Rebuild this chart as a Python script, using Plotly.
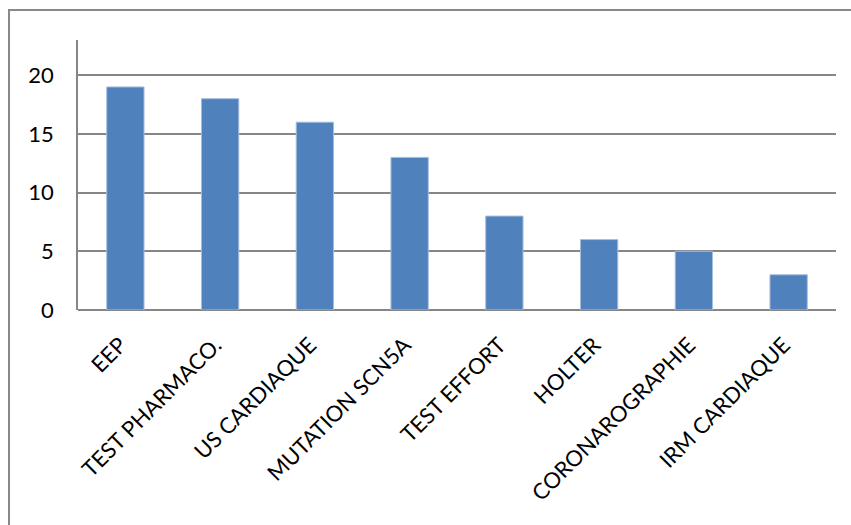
import plotly.graph_objects as go

# Exams performed, by type
categories = ["EEP", "TEST PHARMACO.", "US CARDIAQUE", "MUTATION SCN5A",
              "TEST EFFORT", "HOLTER", "CORONAROGRAPHIE", "IRM CARDIAQUE"]
counts = [19, 18, 16, 13, 8, 6, 5, 3]
y_ticks = [0, 5, 10, 15, 20]

W, H = 851, 525
L, R, T, B = 78, 836, 40, 310.5
pw, ph = R - L, B - T

fig = go.Figure(go.Bar(
    x=categories, y=counts,
    marker=dict(color="#4F81BD", line=dict(color="#A7BEDD", width=1)),
))

def px(x):
    return (x - L) / pw

def py(y):
    return (B - y) / ph

fig.update_layout(
    width=W, height=H,
    margin=dict(l=L, r=W - R, t=T, b=H - B),
    paper_bgcolor="white", plot_bgcolor="white",
    bargap=0.606,
    showlegend=False,
    font=dict(family="Lato, Liberation Sans, sans-serif", size=22, color="black"),
    xaxis=dict(
        tickangle=-45, showgrid=False, showline=False, ticks="",
        ticklabelstandoff=17, ticklabelshift=-5, fixedrange=True,
    ),
    yaxis=dict(
        range=[0, 23], tickvals=y_ticks, ticktext=[str(v) for v in y_ticks],
        showgrid=True, gridcolor="#868686", gridwidth=1.6,
        showline=True, linecolor="#868686", linewidth=1.6,
        zeroline=True, zerolinecolor="#868686", zerolinewidth=1.6,
        ticks="", ticklabelstandoff=18, fixedrange=True,
    ),
    shapes=[
        # chart frame (top and left edges fall inside the view)
        dict(type="rect", xref="paper", yref="paper",
             x0=px(9), x1=px(W + 5), y0=py(H + 5), y1=py(10),
             line=dict(color="#888888", width=2), fillcolor="rgba(0,0,0,0)",
             layer="below"),
    ],
)

fig.write_html("out.html")
